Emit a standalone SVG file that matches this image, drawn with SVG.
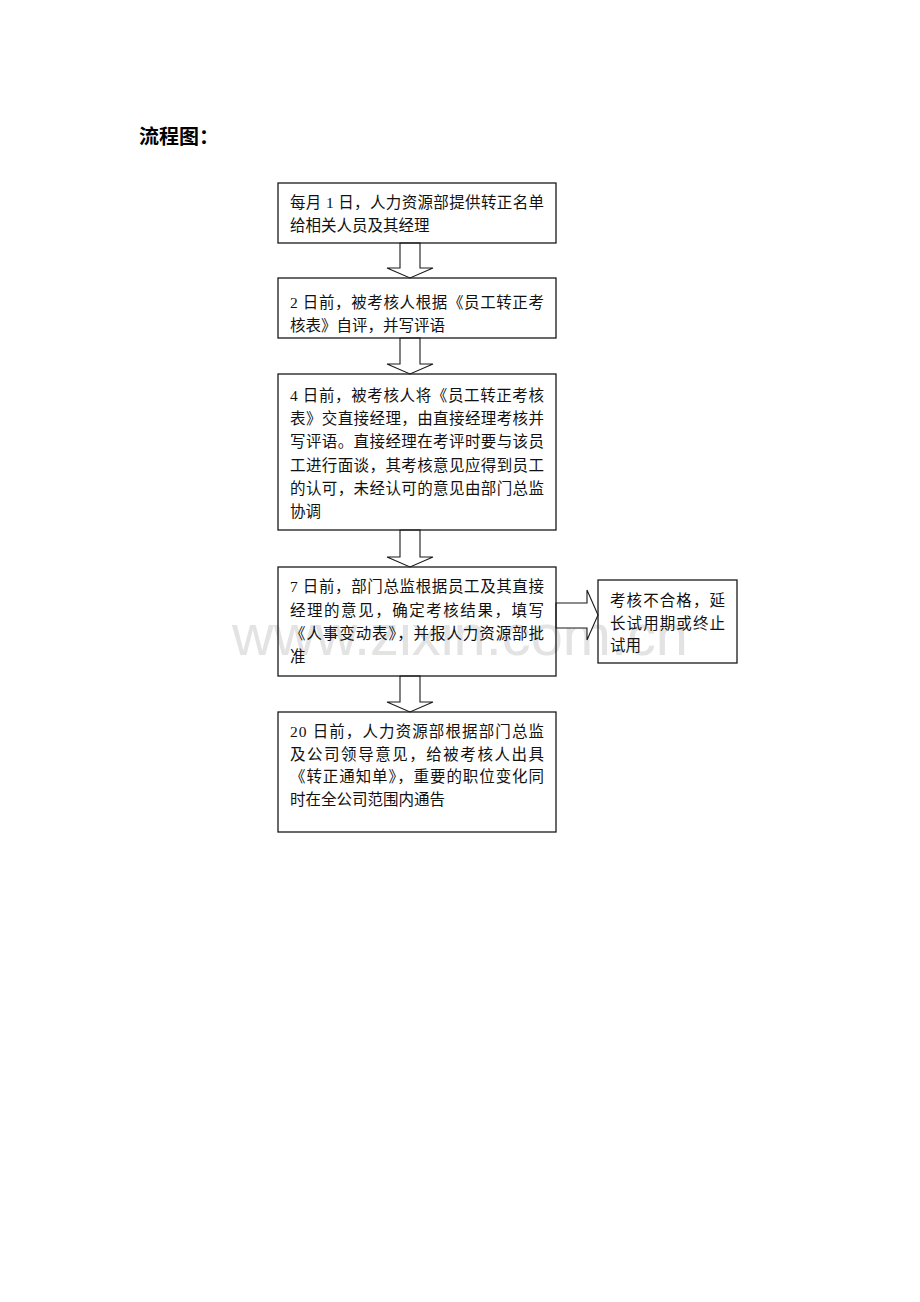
<svg xmlns="http://www.w3.org/2000/svg" width="920" height="1302" viewBox="0 0 920 1302">
<style>
.box{fill:none;stroke:#1a1a1a;stroke-width:1.3}
.arr{fill:#fff;stroke:#1a1a1a;stroke-width:1.1;stroke-linejoin:miter}
.t{font-family:"Liberation Serif","Noto Sans CJK SC",serif;font-size:15.5px;fill:#111}
.title{font-family:"Liberation Sans","Noto Sans CJK SC",sans-serif;font-size:20px;font-weight:bold;fill:#000}
.wm{font-family:"Liberation Sans",Arial,sans-serif;font-size:58px;fill:#e3e3e3}
</style>
<rect width="920" height="1302" fill="#fff"/>
<text class="wm" x="232" y="655" textLength="456" lengthAdjust="spacingAndGlyphs">www.zixin.com.cn</text>
<text class="title" x="139" y="144">流程图：</text>
<g id="connectors">
<polygon class="arr" points="400,243 420,243 420,268 433,268 410,278 387,268 400,268"/>
<polygon class="arr" points="400,338 420,338 420,364 433,364 410,374 387,364 400,364"/>
<polygon class="arr" points="400,530 420,530 420,557 433,557 410,567 387,557 400,557"/>
<polygon class="arr" points="400,676 420,676 420,702 433,702 410,712 387,702 400,702"/>
<polygon class="arr" points="556,603 587,603 587,590 598,615 587,640 587,628 556,628"/>
</g>
<g id="n1">
<rect class="box" x="278" y="183" width="278" height="60"/>
<text class="t" x="290" y="207.5" textLength="254" lengthAdjust="spacing">每月 1 日，人力资源部提供转正名单</text>
<text class="t" x="290" y="230.5">给相关人员及其经理</text>
</g>
<g id="n2">
<rect class="box" x="278" y="278" width="278" height="60"/>
<text class="t" x="290" y="307.5" textLength="254" lengthAdjust="spacing">2 日前，被考核人根据《员工转正考</text>
<text class="t" x="290" y="330.5">核表》自评，并写评语</text>
</g>
<g id="n3">
<rect class="box" x="278" y="374" width="278" height="156"/>
<text class="t" x="290" y="400.5" textLength="254" lengthAdjust="spacing">4 日前，被考核人将《员工转正考核</text>
<text class="t" x="290" y="424" textLength="254" lengthAdjust="spacing">表》交直接经理，由直接经理考核并</text>
<text class="t" x="290" y="447" textLength="254" lengthAdjust="spacing">写评语。直接经理在考评时要与该员</text>
<text class="t" x="290" y="470.5" textLength="254" lengthAdjust="spacing">工进行面谈，其考核意见应得到员工</text>
<text class="t" x="290" y="494" textLength="254" lengthAdjust="spacing">的认可，未经认可的意见由部门总监</text>
<text class="t" x="290" y="517">协调</text>
</g>
<g id="n4">
<rect class="box" x="278" y="567" width="278" height="109"/>
<text class="t" x="290" y="592" textLength="254" lengthAdjust="spacing">7 日前，部门总监根据员工及其直接</text>
<text class="t" x="290" y="615.5" textLength="254" lengthAdjust="spacing">经理的意见，确定考核结果，填写</text>
<text class="t" x="290" y="639" textLength="254" lengthAdjust="spacing">《人事变动表》，并报人力资源部批</text>
<text class="t" x="290" y="662">准</text>
</g>
<g id="n5">
<rect class="box" x="598" y="580" width="139" height="83"/>
<text class="t" x="610" y="605.5" textLength="115" lengthAdjust="spacing">考核不合格，延</text>
<text class="t" x="610" y="629" textLength="115" lengthAdjust="spacing">长试用期或终止</text>
<text class="t" x="610" y="651">试用</text>
</g>
<g id="n6">
<rect class="box" x="278" y="712" width="278" height="120"/>
<text class="t" x="290" y="737" textLength="254" lengthAdjust="spacing">20 日前，人力资源部根据部门总监</text>
<text class="t" x="290" y="759.5" textLength="254" lengthAdjust="spacing">及公司领导意见，给被考核人出具</text>
<text class="t" x="290" y="782" textLength="254" lengthAdjust="spacing">《转正通知单》，重要的职位变化同</text>
<text class="t" x="290" y="805">时在全公司范围内通告</text>
</g>
</svg>
